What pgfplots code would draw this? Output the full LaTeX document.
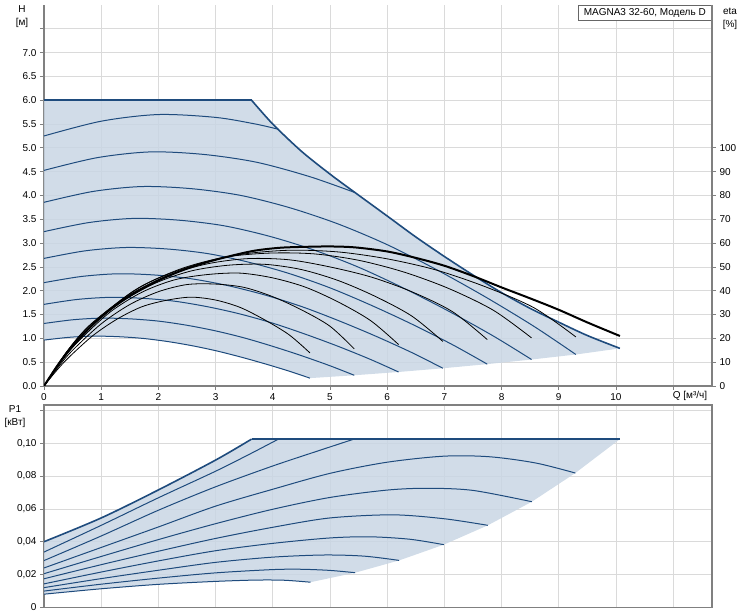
\documentclass[border=0pt]{standalone}
\usepackage{fontspec}
\setmainfont{Liberation Sans}
\usepackage{pgfplots}
\pgfplotsset{compat=1.18}
\definecolor{fillc}{RGB}{201,214,228}
\definecolor{curve}{RGB}{30,75,125}
\definecolor{gridc}{RGB}{218,218,218}
\definecolor{axc}{RGB}{128,128,128}
\begin{document}
\begin{tikzpicture}[x=1pt,y=1pt]
\path[use as bounding box] (0,0) rectangle (750,615);
\pgfplotsset{
  every axis/.append style={
    scale only axis, width=668pt,
    font=\fontsize{10}{12}\selectfont,
    /pgf/number format/assume math mode=true,
    tick align=outside, major tick length=4pt,
    every tick/.style={axc, line width=0.8pt},
    axis line style={-, axc, line width=1.2pt},
    grid style={gridc, line width=0.8pt},
  },
  bl/.style={curve, line width=1.0pt, smooth},
  bk/.style={black, line width=0.8pt, smooth},
}
% ===== top axis H-Q =====
\begin{axis}[at={(44pt,229pt)}, anchor=south west, height=381pt,
  xmin=0, xmax=11.68, ymin=0, ymax=8,
  axis x line*=bottom, axis y line*=left,
  grid=major,
  xtick={0,1,2,3,4,5,6,7,8,9,10,11},
  xticklabels={0,1,2,3,4,5,6,7,8,9,10,{}},
  ytick={0,0.5,1,1.5,2,2.5,3,3.5,4,4.5,5,5.5,6,6.5,7,7.5},
  yticklabels={0.0,0.5,1.0,1.5,2.0,2.5,3.0,3.5,4.0,4.5,5.0,5.5,6.0,6.5,7.0,{}},
]
\addplot[fill=fillc, fill opacity=0.85, draw=none] coordinates {
 (0,6) (3.63,6) (4.0,5.50) (4.5,4.93) (5,4.45) (5.44,4.06) (6,3.57) (6.5,3.13) (7,2.72) (7.5,2.33) (8,1.96) (8.5,1.63) (9,1.34) (9.5,1.06) (10.07,0.79)
 (9.30,0.661) (8.525,0.556) (7.75,0.459) (6.975,0.372) (6.2,0.294) (5.425,0.225) (4.65,0.165)
 (4.286,0.312) (3.857,0.468) (3.429,0.612) (3.0,0.742) (2.571,0.850) (2.143,0.937) (1.714,1.001) (1.286,1.036) (0.857,1.047) (0.429,1.021) (0,0.964)
} -- cycle;
% max curve
\addplot[curve, line width=1.6pt] coordinates {(0,6) (3.63,6)};
\addplot[curve, line width=1.6pt, smooth] coordinates {(3.63,6) (4.0,5.50) (4.5,4.93) (5,4.45) (5.44,4.06) (6,3.57) (6.5,3.13) (7,2.72) (7.5,2.33) (8,1.96) (8.5,1.63) (9,1.34) (9.5,1.06) (10.07,0.79)};
% speed curves
\addplot[bl] coordinates {(0,5.25) (1,5.56) (2,5.70) (3,5.64) (3.7,5.50) (4.1,5.39)};
\addplot[bl] coordinates {(0,4.527) (0.929,4.794) (1.857,4.915) (2.786,4.863) (3.714,4.699) (4.643,4.397) (5.44,4.06)};
\addplot[bl] coordinates {(0,3.857) (0.857,4.085) (1.714,4.188) (2.571,4.144) (3.429,4.004) (4.286,3.747) (5.143,3.402) (6.0,2.968) (6.857,2.447) (7.714,1.873) (8.571,1.249) (9.30,0.661)};
\addplot[bl] coordinates {(0,3.241) (0.786,3.432) (1.571,3.519) (2.357,3.482) (3.143,3.365) (3.929,3.148) (4.714,2.858) (5.5,2.494) (6.286,2.056) (7.071,1.574) (7.857,1.049) (8.525,0.556)};
\addplot[bl] coordinates {(0,2.679) (0.714,2.837) (1.429,2.908) (2.143,2.878) (2.857,2.781) (3.571,2.602) (4.286,2.362) (5.0,2.061) (5.714,1.699) (6.429,1.301) (7.143,0.867) (7.75,0.459)};
\addplot[bl] coordinates {(0,2.170) (0.643,2.298) (1.286,2.356) (1.929,2.331) (2.571,2.252) (3.214,2.108) (3.857,1.913) (4.5,1.670) (5.143,1.376) (5.786,1.054) (6.429,0.703) (6.975,0.372)};
\addplot[bl] coordinates {(0,1.714) (0.571,1.816) (1.143,1.861) (1.714,1.842) (2.286,1.780) (2.857,1.665) (3.429,1.512) (4.0,1.319) (4.571,1.087) (5.143,0.833) (5.714,0.555) (6.2,0.294)};
\addplot[bl] coordinates {(0,1.3125) (0.5,1.39) (1,1.425) (1.5,1.41) (2,1.3625) (2.5,1.275) (3,1.1575) (3.5,1.01) (4,0.8325) (4.5,0.6375) (5,0.425) (5.425,0.225)};
\addplot[bl] coordinates {(0,0.964) (0.429,1.021) (0.857,1.047) (1.286,1.036) (1.714,1.001) (2.143,0.937) (2.571,0.850) (3.0,0.742) (3.429,0.612) (3.857,0.468) (4.286,0.312) (4.65,0.165)};
\node[draw=black!60, fill=white, anchor=north east, inner xsep=6pt, inner ysep=3pt, font=\fontsize{10}{12}\selectfont] at (rel axis cs:1,1) {MAGNA3 32-60, Модель D};
\end{axis}
% ===== eta axis =====
\begin{axis}[at={(44pt,229pt)}, anchor=south west, height=381pt,
  xmin=0, xmax=11.68, ymin=0, ymax=160,
  axis y line*=right, axis x line=none,
  ytick={0,10,20,30,40,50,60,70,80,90,100},
  yticklabel style={anchor=west},
]
\addplot[bk] coordinates {(0,0) (0.214,6.3) (0.429,11.9) (0.857,21.2) (1.286,28.2) (1.714,33.3) (2.143,36.0) (2.571,37.3) (3.0,36.1) (3.429,33.0) (3.857,27.8) (4.286,21.5) (4.65,13.9)};
\addplot[bk] coordinates {(0,0) (0.25,8.0) (0.5,15.0) (1,26.1) (1.5,34.2) (2,39.6) (2.5,42.6) (3,42.8) (3.5,41.4) (4,37.5) (4.5,32.0) (5,25.1) (5.425,15.6)};
\addplot[bk] coordinates {(0,0) (0.286,9.7) (0.571,18.0) (1.143,30.8) (1.714,39.4) (2.286,44.6) (2.857,46.8) (3.429,47.4) (4.0,45.4) (4.571,41.5) (5.143,35.3) (5.714,27.4) (6.2,17.4)};
\addplot[bk] coordinates {(0,0) (0.321,11.5) (0.643,20.8) (1.286,34.2) (1.929,43.0) (2.571,48.3) (3.214,50.7) (3.857,51.1) (4.5,48.9) (5.143,44.3) (5.786,37.7) (6.429,29.4) (6.975,18.7)};
\addplot[bk] coordinates {(0,0) (0.357,12.7) (0.714,22.8) (1.429,37.2) (2.143,46.2) (2.857,51.3) (3.571,53.5) (4.286,53.0) (5.0,50.0) (5.714,45.8) (6.429,39.6) (7.143,31.2) (7.75,19.5)};
\addplot[bk] coordinates {(0,0) (0.393,14.2) (0.786,25.0) (1.571,40.0) (2.357,48.9) (3.143,54.0) (3.929,55.8) (4.714,55.5) (5.5,52.8) (6.286,47.9) (7.071,41.0) (7.857,31.8) (8.525,20.2)};
\addplot[bk] coordinates {(0,0) (0.429,15.4) (0.857,26.8) (1.714,42.0) (2.571,50.3) (3.429,55.2) (4.286,57.0) (5.143,56.3) (6.0,53.4) (6.857,48.7) (7.714,41.7) (8.571,32.8) (9.30,20.6)};
\addplot[black, line width=2.0pt, smooth] coordinates {(0,0) (0.25,9.1) (0.5,16.8) (1,29.1) (1.5,37.8) (2,44.3) (2.5,49.3) (3,53.0) (3.63,56.6) (4.1,58.0) (4.5,58.4) (5,58.6) (5.44,58.2) (6,56.5) (6.5,53.8) (7,50.5) (7.5,46.2) (8,41.4) (8.5,36.8) (9,32.0) (9.5,26.7) (10.07,21.0)};
\end{axis}
% ===== bottom axis P1-Q =====
\begin{axis}[at={(44pt,7.7pt)}, anchor=south west, height=202.3pt,
  xmin=0, xmax=11.68, ymin=0, ymax=0.1234,
  grid=major,
  xtick={0,1,2,3,4,5,6,7,8,9,10,11}, xticklabels={},
  xtick style={draw=none},
  xtick pos=bottom, ytick pos=left,
  ytick={0,0.02,0.04,0.06,0.08,0.10,0.12},
  yticklabels={0,{0,02},{0,04},{0,06},{0,08},{0,10},{}},
]
\addplot[fill=fillc, fill opacity=0.85, draw=none] coordinates {
 (0,0.040) (1,0.0545) (2,0.0716) (3,0.0898) (3.63,0.1026) (10.07,0.1026)
 (9.29,0.0819) (8.53,0.0644) (7.76,0.0500) (6.99,0.0382) (6.21,0.0286) (5.44,0.0211) (4.66,0.0153)
 (4.2,0.0165) (3.7,0.0166) (3,0.0158) (2,0.0140) (1,0.0113) (0,0.0080)
} -- cycle;
\addplot[curve, line width=1.6pt, smooth] coordinates {(0,0.040) (1,0.0545) (2,0.0716) (3,0.0898) (3.63,0.1026)};
\addplot[curve, line width=1.6pt] coordinates {(3.63,0.1026) (10.07,0.1026)};
\addplot[bl] coordinates {(0,0.0337) (1,0.050) (2,0.0668) (3,0.083) (3.6,0.0935) (4.10,0.1026)};
\addplot[bl] coordinates {(0,0.0285) (1,0.0435) (2,0.0592) (3,0.0735) (4,0.0862) (4.8,0.0955) (5.42,0.1026)};
\addplot[bl] coordinates {(0,0.024) (1,0.0365) (2,0.049) (3,0.0617) (4,0.072) (5,0.0817) (6,0.0885) (7,0.0922) (7.8,0.0918) (8.6,0.0880) (9.29,0.0819)};
\addplot[bl] coordinates {(0,0.0205) (1,0.031) (2,0.0413) (3,0.051) (4,0.0598) (5,0.067) (6,0.0715) (6.7,0.0726) (7.5,0.0713) (8.53,0.0644)};
\addplot[bl] coordinates {(0,0.0174) (1,0.026) (2,0.0342) (3,0.042) (4,0.0488) (5,0.0545) (6.1,0.0564) (7,0.054) (7.76,0.0500)};
\addplot[bl] coordinates {(0,0.0143) (1,0.0215) (2,0.0283) (3,0.0345) (4,0.039) (5,0.0423) (5.7,0.043) (6.4,0.0415) (6.99,0.0382)};
\addplot[bl] coordinates {(0,0.012) (1,0.0175) (2,0.0226) (3,0.0274) (4,0.0306) (4.9,0.0319) (5.6,0.0312) (6.21,0.0286)};
\addplot[bl] coordinates {(0,0.0099) (1,0.0141) (2,0.0178) (3,0.021) (4,0.023) (4.5,0.0232) (5,0.0225) (5.44,0.0211)};
\addplot[bl] coordinates {(0,0.008) (1,0.0113) (2,0.014) (3,0.0158) (3.7,0.0166) (4.2,0.0165) (4.66,0.0153)};
\end{axis}
% ===== labels =====
\begin{scope}[every node/.style={font=\fontsize{10}{12}\selectfont, inner sep=0pt}]
\node at (22,605.7) {H};
\node at (22,592.3) {[м]};
\node at (730,603.3) {eta};
\node at (730,590) {[\%]};
\node at (15,205.7) {P1};
\node at (15,191.7) {[кВт]};
\node at (690,219) {Q [м³/ч]};
\end{scope}
\end{tikzpicture}
\end{document}
